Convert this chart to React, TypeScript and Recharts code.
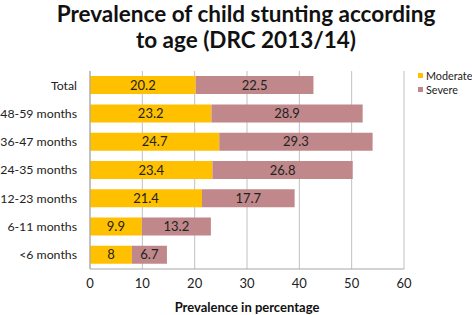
import React from 'react';
import { BarChart, Bar, XAxis, YAxis, CartesianGrid, LabelList } from 'recharts';

const categories = ['Total', '48-59 months', '36-47 months', '24-35 months', '12-23 months', '6-11 months', '<6 months'];
const moderate = [20.2, 23.2, 24.7, 23.4, 21.4, 9.9, 8];
const severe = [22.5, 28.9, 29.3, 26.8, 17.7, 13.2, 6.7];
const xTicks = [0, 10, 20, 30, 40, 50, 60];
const seriesNames = ['Moderate', 'Severe'];

const data = categories.map((c, i) => ({ name: c, Moderate: moderate[i], Severe: severe[i] }));

const FONT = 'Lato, "Open Sans", sans-serif';
const MOD_COLOR = '#FFC000';
const SEV_COLOR = '#C0888A';
const colors = [MOD_COLOR, SEV_COLOR];

export default function App() {
  return (
    <div style={{ position: 'absolute', left: 0, top: 0, width: 472, height: 315, background: '#fff', fontFamily: FONT, overflow: 'hidden' }}>
      <div style={{ position: 'absolute', left: 20, top: 1, width: 452, textAlign: 'center', fontWeight: 700, fontSize: 22.5, lineHeight: '26px', color: '#111' }}>
        Prevalence of child stunting according<br />to age (DRC 2013/14)
      </div>
      <BarChart
        width={472}
        height={315}
        data={data}
        layout="vertical"
        margin={{ top: 71, right: 68, bottom: 0, left: 0 }}
        barCategoryGap="18%"
      >
        <CartesianGrid horizontal={false} vertical stroke="#c0c0c0" />
        <XAxis
          type="number"
          domain={[0, 60]}
          ticks={xTicks}
          interval={0}
          height={46}
          tickLine={false}
          tickSize={0}
          tickMargin={10}
          axisLine={{ stroke: '#a6a6a6' }}
          tick={{ fill: '#222', fontSize: 13, fontFamily: FONT }}
          label={{ value: 'Prevalence in percentage', position: 'insideBottom', offset: 3, fill: '#111', fontSize: 13, fontWeight: 700, fontFamily: FONT }}
        />
        <YAxis
          type="category"
          dataKey="name"
          width={90}
          tickLine={false}
          tickSize={0}
          tickMargin={13}
          interval={0}
          axisLine={{ stroke: '#a6a6a6' }}
          tick={{ fill: '#222', fontSize: 12.3, fontFamily: FONT }}
        />
        <Bar dataKey="Moderate" stackId="a" fill={MOD_COLOR} isAnimationActive={false}>
          <LabelList dataKey="Moderate" position="center" fill="#222" fontSize={13} fontFamily={FONT} />
        </Bar>
        <Bar dataKey="Severe" stackId="a" fill={SEV_COLOR} isAnimationActive={false}>
          <LabelList dataKey="Severe" position="center" fill="#222" fontSize={13} fontFamily={FONT} />
        </Bar>
      </BarChart>
      <div style={{ position: 'absolute', left: 418, top: 68, fontSize: 10.8, color: '#222' }}>
        {seriesNames.map((n, i) => (
          <div key={n} style={{ display: 'flex', alignItems: 'center', height: 14 }}>
            <span style={{ width: 5, height: 5, background: colors[i], marginRight: 3, display: 'inline-block' }} />
            <span>{n}</span>
          </div>
        ))}
      </div>
    </div>
  );
}
